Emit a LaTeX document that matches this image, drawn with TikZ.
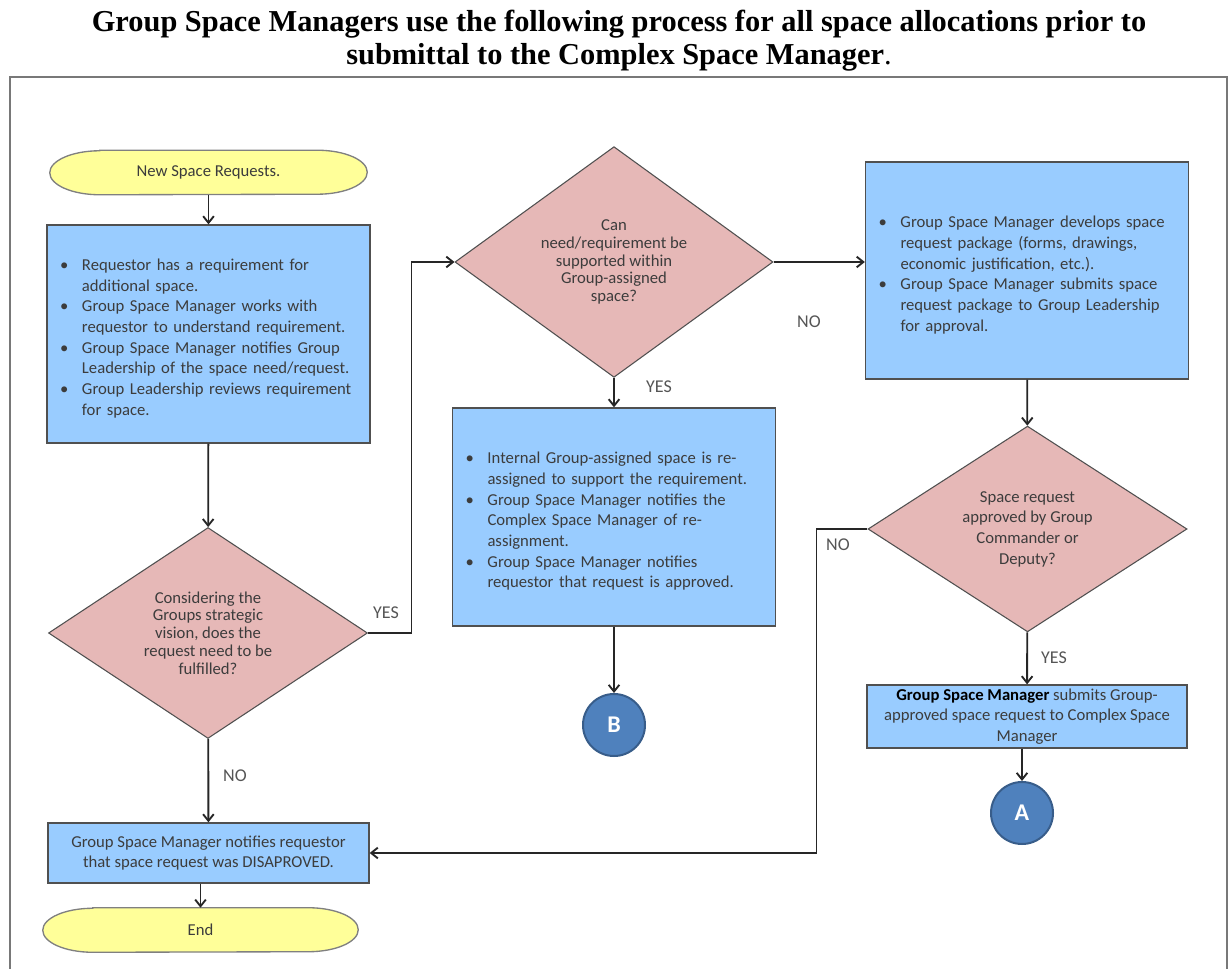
\documentclass[tikz,border=0pt]{standalone}
\usepackage{fontspec}
\setmainfont{Carlito}
\newfontfamily\titlefont{Liberation Serif}
\usetikzlibrary{shapes.geometric,arrows.meta,calc,backgrounds}

\definecolor{boxblue}{RGB}{153,204,255}
\definecolor{decpink}{RGB}{230,184,183}
\definecolor{termyellow}{RGB}{255,255,153}
\definecolor{conblue}{RGB}{79,129,189}
\definecolor{conedge}{RGB}{56,93,138}
\definecolor{bodytext}{RGB}{60,60,60}
\definecolor{edgegray}{RGB}{80,80,80}
\definecolor{termedge}{RGB}{128,128,128}
\definecolor{linegray}{RGB}{38,38,38}
\definecolor{labelgray}{RGB}{85,85,85}
\definecolor{framegray}{RGB}{120,120,120}

% one bullet point with a hanging indent
\newcommand\bitem[1]{\par\noindent\hangindent=16.5pt\hangafter=1\makebox[16.5pt][l]{\textbullet}#1}

% elliptical-ended terminator outline around a named node
\newcommand\termoutline[2]{%
  \path[termshape] ($(#1.north west)+(#2,0)$) -- ($(#1.north east)+(-#2,0)$)
    arc[start angle=-90,end angle=90,x radius=#2,y radius=22]
    -- ($(#1.south west)+(#2,0)$)
    arc[start angle=90,end angle=270,x radius=#2,y radius=22] -- cycle;}

\tikzset{
  bodyfont/.style={font=\fontsize{12.5pt}{15.5pt}\selectfont, text=bodytext},
  process/.style={rectangle, draw=edgegray, line width=1pt, fill=boxblue,
    bodyfont, inner xsep=9.75pt, inner ysep=0pt},
  listbox/.style={process, text width=222.75pt},
  decision/.style={diamond, draw=edgegray, line width=0.8pt, fill=decpink,
    align=center, inner sep=0pt, text=bodytext,
    font=\fontsize{12.5pt}{13.3pt}\selectfont},
  terminal/.style={rectangle, inner sep=0pt, text=bodytext,
    font=\fontsize{12.5pt}{15pt}\selectfont},
  termshape/.style={draw=termedge, line width=1pt, fill=termyellow},
  offpage/.style={circle, draw=conedge, line width=1.5pt, fill=conblue,
    text=white, font=\fontsize{18pt}{18pt}\selectfont\bfseries,
    minimum size=46.5pt, inner sep=0pt},
  flow/.style={draw=linegray, line width=1.4pt,
    -{Straight Barb[length=5pt,width=8pt]}},
  answer/.style={font=\fontsize{13.5pt}{13.5pt}\selectfont, text=labelgray},
  heading/.style={font=\titlefont\bfseries\fontsize{22.8pt}{22.8pt}\selectfont,
    anchor=base, inner sep=0pt}
}

\begin{document}
\begin{tikzpicture}[x=0.75pt,y=-0.75pt]
\useasboundingbox (0,0) rectangle (1231,969);

% heading
\node[heading] (title) at (619,32) {Group Space Managers use the following process for all space allocations prior to};
\node[heading] (titlecont) at (619,65) {submittal to the Complex Space Manager{\mdseries.}};

% page frame
\draw[framegray, line width=1.5pt] (10,969) -- (10,77) -- (1227,77) -- (1227,969);

% left column
\node[terminal, minimum width=237.75pt, minimum height=33pt] (start) at (208.5,172.5) {New Space Requests.};
\node[listbox, minimum height=163.5pt] (review) at (208.5,334) {%
\bitem{Requestor has a requirement for\newline additional space.}
\bitem{Group Space Manager works with\newline requestor to understand requirement.}
\bitem{Group Space Manager notifies Group\newline Leadership of the space need/request.}
\bitem{Group Leadership reviews requirement\newline for space.}\par};
\node[decision, minimum width=239.25pt, minimum height=150pt] (vision) at (208,633)
  {Considering the\\Groups strategic\\vision, does the\\request need to be\\fulfilled?};
\node[process, align=center, minimum width=240.75pt, minimum height=45pt] (denied) at (208.5,853)
  {Group Space Manager notifies requestor\\that space request was DISAPROVED.};
\node[terminal, minimum width=236.25pt, minimum height=33pt] (finish) at (200.5,930) {End};

% middle column
\node[decision, minimum width=238.5pt, minimum height=150pt] (within) at (614,262)
  {Can\\need/requirement be\\supported within\\Group-assigned\\space?};
\node[listbox, minimum height=163.5pt] (reassign) at (614,517) {%
\bitem{Internal Group-assigned space is re-\newline assigned to support the requirement.}
\bitem{Group Space Manager notifies the\newline Complex Space Manager of re-\newline assignment.}
\bitem{Group Space Manager notifies\newline requestor that request is approved.}\par};
\node[offpage] (pageB) at (614,725) {B};

% right column
\node[listbox, minimum height=162.75pt] (package) at (1027,270.5) {%
\bitem{Group Space Manager develops space\newline request package (forms, drawings,\newline economic justification, etc.).}
\bitem{Group Space Manager submits space\newline request package to Group Leadership\newline for approval.}\par};
\node[decision, minimum width=239.25pt, minimum height=148.5pt, font=\fontsize{12.5pt}{15.5pt}\selectfont] (approved) at (1027.5,529)
  {Space request\\approved by Group\\Commander or\\Deputy?};
\node[process, align=center, minimum width=240pt, minimum height=47.25pt] (submit) at (1027,716.5)
  {{\color{black}\bfseries Group Space Manager} submits Group-\\approved space request to Complex Space\\Manager};
\node[offpage] (pageA) at (1022,813) {A};

% white page and terminator outlines behind everything else
\begin{scope}[on background layer]
  \fill[white] (0,0) rectangle (1231,969);
  \termoutline{start}{50}
  \termoutline{finish}{50}
\end{scope}

% flow lines
\draw[flow] (start) -- (review);
\draw[flow] (review) -- (vision);
\draw[flow] (vision.east) -- ++(43.5,0) |- (within.west);
\draw[flow] (vision) -- (denied);
\draw[flow] (finish.north |- denied.south) -- (finish.north);
\draw[flow] (within) -- (reassign);
\draw[flow] (reassign) -- (pageB);
\draw[flow] (within.east) -- (within.east -| package.west);
\draw[flow] (package) -- (approved);
\draw[flow] (approved) -- (submit);
\draw[flow] (pageA.north |- submit.south) -- (pageA.north);
\draw[flow] (approved.west) -- ++(-51,0) |- (denied.east);

% answers on the flow lines
\node[answer] (yes1) at (386,613) {YES};
\node[answer] (no1) at (235,776) {NO};
\node[answer] (yes2) at (659,387) {YES};
\node[answer] (no2) at (809,322) {NO};
\node[answer] (no3) at (838,545) {NO};
\node[answer] (yes3) at (1054,658) {YES};
\end{tikzpicture}
\end{document}
